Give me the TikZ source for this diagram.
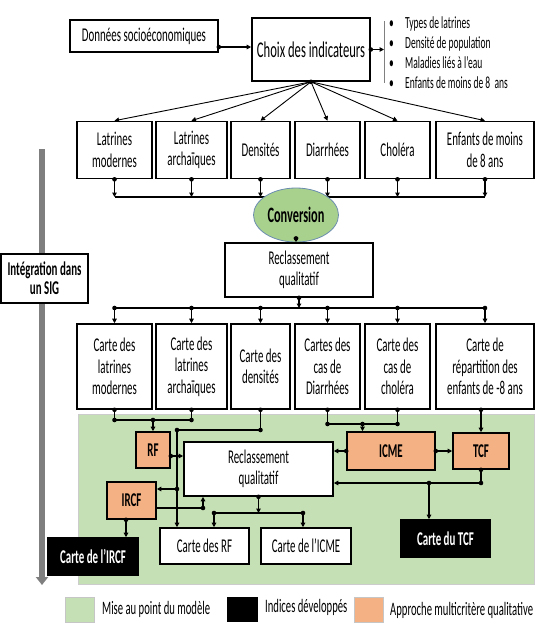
\documentclass[tikz,border=0pt]{standalone}
\usepackage{fontspec}
\setmainfont{Carlito}[FakeStretch=0.56]
\usetikzlibrary{arrows.meta,shapes.geometric,calc}
\definecolor{greenbg}{HTML}{C5E0B4}
\definecolor{greenel}{HTML}{A9D18E}
\definecolor{orangec}{HTML}{F4B183}
\definecolor{garrow}{HTML}{7F7F7F}
\definecolor{elborder}{HTML}{6A8CAF}
\newcommand\jdot[1]{\fill (#1) circle (2.3pt);}
\begin{document}
\begin{tikzpicture}[x=1pt,y=-1pt,
  box/.style={draw=black,line width=1.6pt,fill=white,rectangle,inner sep=0pt,align=center,
    font=\fontsize{19.5}{21.5}\selectfont},
  sz/.style 2 args={minimum width=#1,minimum height=#2},
  obox/.style={box,fill=orangec,font=\fontsize{19.5}{21.5}\selectfont\bfseries},
  bbox/.style={box,fill=black,text=white,font=\fontsize{19.5}{21.5}\selectfont\bfseries},
  conn/.style={line width=1.3pt,-{Triangle[length=4.5pt,width=4.5pt]}},
  plain/.style={line width=1.3pt},
  fan/.style={line width=0.9pt,-{Triangle[length=4.5pt,width=4.5pt]}},
  lst/.style={anchor=west,inner sep=0pt,font=\fontsize{17}{19}\selectfont},
  leg/.style={anchor=west,inner sep=0pt,font=\fontsize{19}{21}\selectfont},
  legsq/.style={draw=gray!45,line width=0.8pt,inner sep=0pt,minimum width=29pt,minimum height=25pt}]
\useasboundingbox (0,0) rectangle (555,633);

% grey vertical arrow
\coordinate (gtop) at (42,149);
\coordinate (gbot) at (42,585);
\draw[line width=6pt,color=garrow,-{Triangle[length=8pt,width=12pt]}] (gtop) -- (gbot);
\node[box,sz={87pt}{49pt},font=\fontsize{19.5}{19}\selectfont\bfseries] (sig) at (44.5,278.5) {Intégration dans\\un SIG};

% top
\node[box,sz={148pt}{32pt}] (don) at (144,36) {Données socioéconomiques};
\node[box,sz={118pt}{63pt},font=\fontsize{22.5}{25}\selectfont] (choix) at (311,49.5) {Choix des indicateurs};
\coordinate (a1) at ([yshift=-11pt]don.east);
\jdot{a1}
\draw[conn] (a1) -- (a1 -| choix.west);
\coordinate (br1) at (384,21);
\coordinate (br2) at (384,83);
\draw[gray,line width=0.8pt] (br1) -- (br2);
\jdot{choix.east}
\draw[conn] (choix.east) -- (choix.east -| br1);
\node[lst] (l1) at (389,24) {\makebox[16pt][l]{•}Types de latrines};
\node[lst] (l2) at (389,43.5) {\makebox[16pt][l]{•}Densité de population};
\node[lst] (l3) at (389,63) {\makebox[16pt][l]{•}Maladies liés à l’eau};
\node[lst] (l4) at (389,82.5) {\makebox[16pt][l]{•}Enfants de moins de 8~ ans};

% row 1
\node[box,sz={75pt}{57pt}] (r1a) at (114.5,150) {Latrines\\modernes};
\node[box,sz={71pt}{57pt}] (r1b) at (191.5,150) {Latrines\\archaïques};
\node[box,sz={59pt}{57pt}] (r1c) at (260.5,150) {Densités};
\node[box,sz={65pt}{57pt}] (r1d) at (327.5,150) {Diarrhées};
\node[box,sz={65pt}{57pt}] (r1e) at (397.5,150) {Choléra};
\node[box,sz={98pt}{57pt}] (r1f) at (485,150) {Enfants de moins\\de 8 ans};
\jdot{choix.south}
\foreach \n in {r1a,r1b,r1c,r1d,r1e,r1f}{\draw[fan] (choix.south) -- (\n.north);}

\coordinate (busy1) at (0,197);
\draw[plain] (r1a.south |- busy1) -- (r1f.south |- busy1);
\foreach \n in {r1a,r1b,r1c,r1d,r1e,r1f}{\jdot{\n.south}\draw[conn] (\n.south) -- (\n.south |- busy1);}

\node[ellipse,draw=elborder,line width=0.8pt,fill=greenel,sz={85pt}{54pt},inner sep=0pt,
  font=\fontsize{22}{24}\selectfont\bfseries] (conv) at (296,215) {Conversion};
\node[box,sz={148pt}{54pt}] (recl1) at (299,270) {Reclassement\\qualitatif};
\coordinate (cd) at ([yshift=4pt]conv.south);
\jdot{cd}
\draw[conn] (cd) -- (cd |- recl1.north);

% row 2
\node[box,sz={75pt}{85pt}] (r2a) at (114.5,366.5) {Carte des\\latrines\\modernes};
\node[box,sz={71pt}{85pt}] (r2b) at (191.5,366.5) {Carte des\\latrines\\archaïques};
\node[box,sz={59pt}{85pt}] (r2c) at (260.5,366.5) {Carte des\\densités};
\node[box,sz={65pt}{85pt}] (r2d) at (327.5,366.5) {Cartes des\\cas de\\Diarrhées};
\node[box,sz={65pt}{85pt}] (r2e) at (397.5,366.5) {Carte des\\cas de\\choléra};
\node[box,sz={98pt}{85pt}] (r2f) at (485,366.5) {Carte de\\répartition des\\enfants de -8 ans};
\coordinate (busy2) at (0,308);
\jdot{recl1.south}
\draw[conn] (recl1.south) -- (recl1.south |- busy2);
\draw[plain] (r2a.north |- busy2) -- (r2f.north |- busy2);
\foreach \n in {r2a,r2b,r2c,r2d,r2e,r2f}{\jdot{\n.north |- busy2}\draw[conn] (\n.north |- busy2) -- (\n.north);}

% green zone
\node[fill=greenbg,draw=gray!40,line width=0.6pt,sz={456pt}{170pt},inner sep=0pt] (zone) at (306,499) {};

% bottom nodes
\node[obox,sz={34pt}{36pt}] (RF) at (153,450) {RF};
\node[obox,sz={49pt}{37pt}] (IRCF) at (131.5,500.5) {IRCF};
\node[box,sz={149pt}{54pt}] (recl2) at (258.5,469) {Reclassement\\qualitatif};
\node[obox,sz={88pt}{38pt}] (ICME) at (391,451) {ICME};
\node[obox,sz={56pt}{36pt}] (TCF) at (481,451) {TCF};
\node[box,sz={89pt}{36pt}] (cRF) at (204.5,546) {Carte des RF};
\node[box,sz={90pt}{36pt}] (cICME) at (306,546) {Carte de l’ICME};
\node[bbox,sz={90pt}{37pt}] (cIRCF) at (93,556.5) {Carte de l’IRCF};
\node[bbox,sz={89pt}{37pt}] (cTCF) at (445.5,538.5) {Carte du TCF};

% left pair -> RF
\coordinate (yA) at (0,420);
\draw[plain] (r2a.south) -- (r2a.south |- yA) -- (r2b.south |- yA) -- (r2b.south);
\jdot{r2a.south}\jdot{r2b.south}\jdot{r2a.south |- yA}\jdot{r2b.south |- yA}\jdot{RF.north |- yA}
\draw[conn] (RF.north |- yA) -- (RF.north);

% densites -> vertical line
\coordinate (yB) at (0,430);
\coordinate (xV) at (177,0);
\draw[plain] (r2c.south) -- (r2c.south |- yB) -- (xV |- yB);
\jdot{r2c.south}\jdot{r2c.south |- yB}\jdot{xV |- yB}
\draw[conn] (xV |- yB) -- (xV |- cRF.north);
\coordinate (yC) at (0,489);
\jdot{xV |- yC}
\draw[conn] (xV |- yC) -- (IRCF.east |- yC);

% RF -> recl2
\coordinate (yD) at (0,456);
\jdot{RF.east |- yD}
\draw[conn] (RF.east |- yD) -- (recl2.west |- yD);

% IRCF -> recl2
\coordinate (yE) at (0,508);
\coordinate (xE) at (203,0);
\draw[conn] (IRCF.east |- yE) -- (xE |- yE) -- (xE |- recl2.south);
\jdot{xE |- yE}

% recl2 -> cartes
\coordinate (yF) at (0,513);
\coordinate (xG) at (214,0);
\coordinate (xH) at (303,0);
\jdot{recl2.south}
\draw[conn] (recl2.south) -- (recl2.south |- yF);
\draw[plain] (xG |- yF) -- (xH |- yF);
\jdot{xG |- yF}\jdot{xH |- yF}
\draw[conn] (xG |- yF) -- (xG |- cRF.north);
\draw[conn] (xH |- yF) -- (xH |- cICME.north);

% IRCF -> carte IRCF
\coordinate (xI) at (126,0);
\jdot{xI |- IRCF.south}
\draw[conn] (xI |- IRCF.south) -- (xI |- cIRCF.north);

% right pair -> ICME
\coordinate (yJ) at (0,424);
\coordinate (xK) at (362.5,0);
\draw[plain] (r2d.south) -- (r2d.south |- yJ) -- (r2e.south |- yJ) -- (r2e.south);
\jdot{r2d.south}\jdot{r2e.south}\jdot{r2d.south |- yJ}\jdot{r2e.south |- yJ}\jdot{xK |- yJ}
\draw[conn] (xK |- yJ) -- (xK |- ICME.north);

% ICME arrows
\jdot{ICME.west}
\draw[conn] (ICME.west) -- (ICME.west -| recl2.east);
\jdot{ICME.east}
\draw[conn] (ICME.east) -- (ICME.east -| TCF.west);

% enfants -> TCF
\jdot{TCF.north |- r2f.south}
\draw[conn] (TCF.north |- r2f.south) -- (TCF.north);

% TCF -> recl2, carte TCF
\coordinate (yL) at (0,483);
\coordinate (xM) at (429,0);
\jdot{TCF.south}
\draw[plain] (TCF.south) -- (TCF.south |- yL);
\jdot{TCF.south |- yL}
\draw[conn] (TCF.south |- yL) -- (recl2.east |- yL);
\jdot{xM |- yL}
\draw[conn] (xM |- yL) -- (xM |- cTCF.north);

% legend
\node[legsq,fill=greenbg] (lg1) at (79.5,609.5) {};
\node[leg] (lt1) at (102,609) {Mise au point du modèle};
\node[legsq,fill=black,draw=black,minimum width=30pt,minimum height=24pt] (lg2) at (242,609) {};
\node[leg] (lt2) at (265,607) {Indices développés};
\node[legsq,fill=orangec] (lg3) at (368.5,609.5) {};
\node[leg] (lt3) at (390,610) {Approche multicritère qualitative};
\end{tikzpicture}
\end{document}
